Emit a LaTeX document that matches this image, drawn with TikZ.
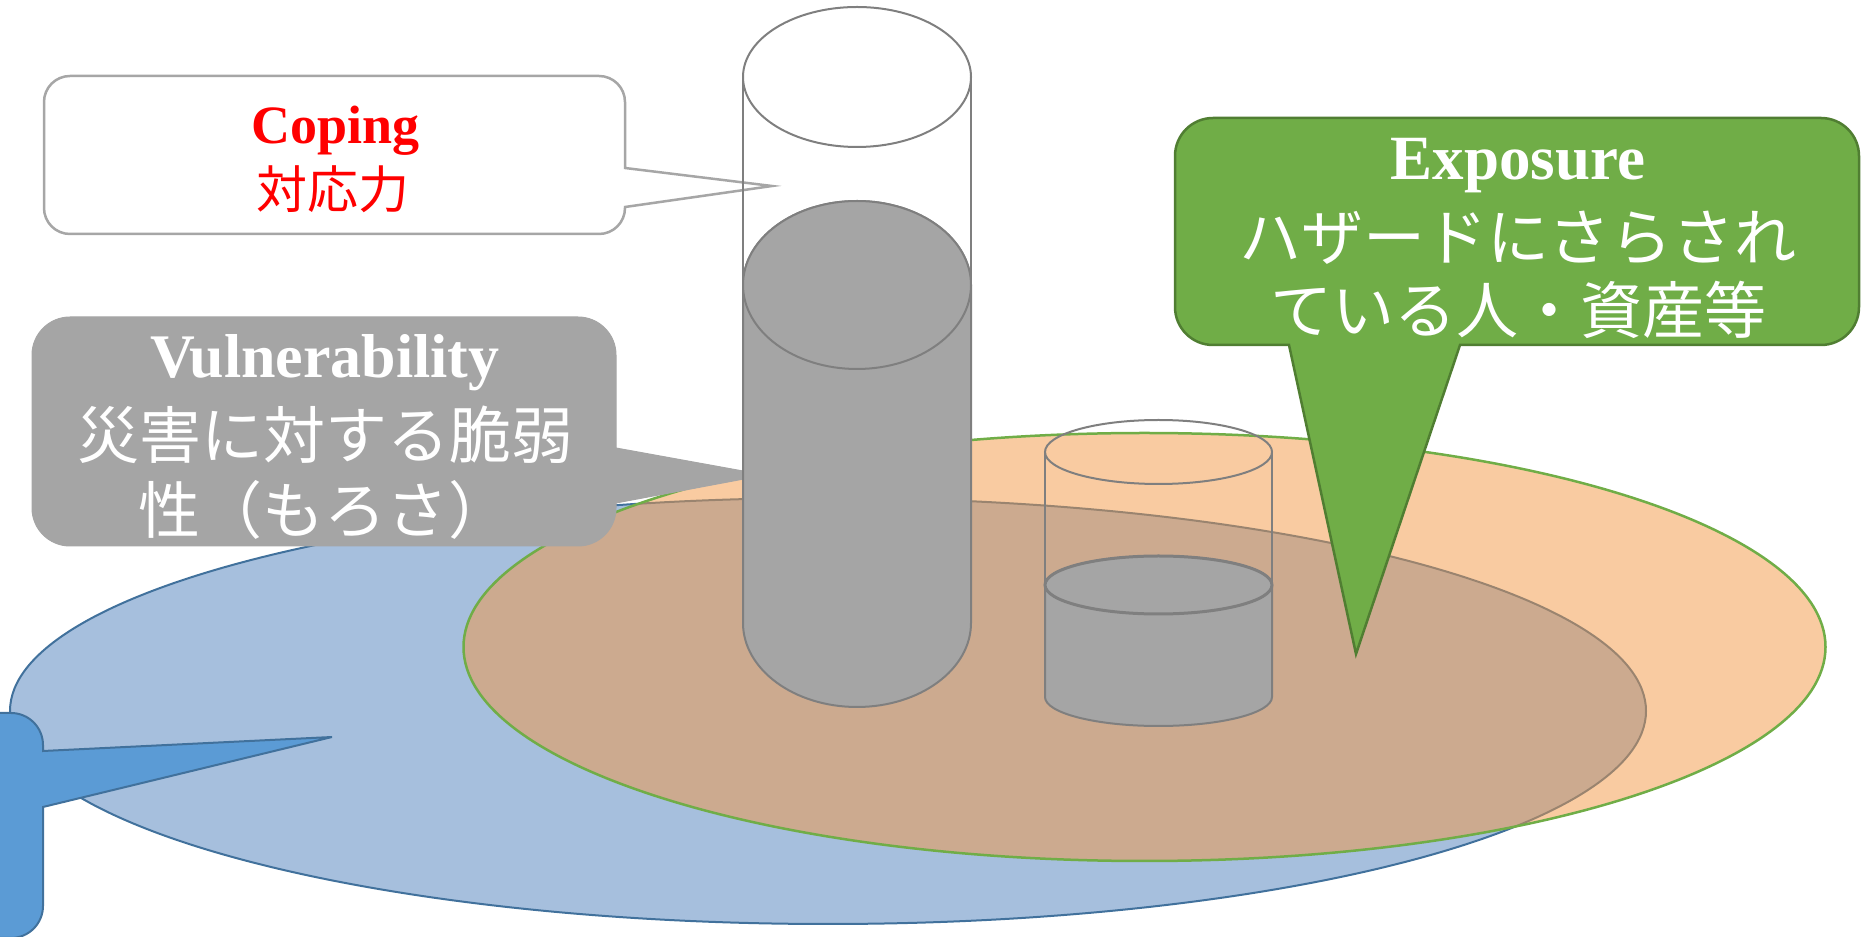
\documentclass[tikz,border=0pt]{standalone}
\usepackage{fontspec}
\setmainfont{Liberation Serif}
\newfontfamily\jpfont{Noto Sans CJK JP}
\usetikzlibrary{calc}

\definecolor{hazardfill}{HTML}{A6BFDD}
\definecolor{hazardline}{HTML}{41719C}
\definecolor{hazardcall}{HTML}{5B9BD5}
\definecolor{expofill}{RGB}{243,151,67}
\definecolor{expogreen}{HTML}{70AD47}
\definecolor{expodark}{HTML}{507E32}
\definecolor{tankgray}{HTML}{A5A5A5}
\definecolor{tankline}{HTML}{7F7F7F}
\definecolor{copingline}{HTML}{A6A6A6}
\definecolor{copingred}{HTML}{FF0000}

\tikzset{
  hazardarea/.style={fill=hazardfill, draw=hazardline, line width=2pt},
  exposurearea/.style={fill=expofill, fill opacity=0.5, draw=expogreen, line width=2.5pt},
  hazardbox/.style={fill=hazardcall, draw=hazardline, line width=2pt},
  copingbox/.style={fill=white, draw=copingline, line width=2.5pt},
  vulnbox/.style={fill=tankgray, draw=tankgray, line width=1pt},
  exposurebox/.style={fill=expogreen, draw=expodark, line width=2.5pt},
  glass/.style={draw=tankline, line width=2pt},
  water/.style={fill=tankgray, draw=tankline, line width=2pt},
  entitle/.style={font=\bfseries\fontsize{62}{62}\selectfont, text=white,
    anchor=base, inner sep=0pt},
  jptext/.style={font=\jpfont\fontsize{62}{62}\selectfont, text=white,
    anchor=base, inner sep=0pt}
}

\begin{document}
\begin{tikzpicture}[x=1pt, y=1pt]

\useasboundingbox (0,0) rectangle (1861,937);
\clip (0,0) rectangle (1861,937);

% Ground areas
\draw[hazardarea] (828,226) ellipse[x radius=818, y radius=213];
\draw[exposurearea] (1144.5,290) ellipse[x radius=681, y radius=214];

% Hazard callout, only its tip is inside
\draw[hazardbox] (-300,224) -- (11,224) arc[start angle=90, end angle=0, radius=32]
  -- (43,186) -- (332,200) -- (43,130) -- (43,31)
  arc[start angle=0, end angle=-90, radius=32] -- (-300,-1) -- cycle;

% Coping callout
\draw[copingbox] (70,861) -- (599,861) arc[start angle=90, end angle=0, radius=26]
  -- (625,769) -- (772,751) -- (625,730) -- (625,729)
  arc[start angle=0, end angle=-90, radius=26] -- (70,703)
  arc[start angle=270, end angle=180, radius=26] -- (44,835)
  arc[start angle=180, end angle=90, radius=26] -- cycle;

% Vulnerability callout
\draw[vulnbox] (70,620) -- (578,620) arc[start angle=90, end angle=0, radius=38]
  -- (616,489) -- (765,462) -- (616,434) -- (616,429)
  arc[start angle=0, end angle=-90, radius=38] -- (70,391)
  arc[start angle=270, end angle=180, radius=38] -- (32,582)
  arc[start angle=180, end angle=90, radius=38] -- cycle;

% Tall tank
\draw[water] (743,652) -- (743,314)
  arc[start angle=180, end angle=360, x radius=114, y radius=84] -- (971,652)
  arc[start angle=0, end angle=180, x radius=114, y radius=84] -- cycle;
\draw[water] (857,652) ellipse[x radius=114, y radius=84];
\draw[glass] (857,860) ellipse[x radius=114, y radius=70];
\draw[glass] (743,860) -- (743,652) (971,860) -- (971,652);

% Short tank
\draw[water] (1045,352) -- (1045,240)
  arc[start angle=180, end angle=360, x radius=113.5, y radius=29] -- (1272,352)
  arc[start angle=0, end angle=180, x radius=113.5, y radius=29] -- cycle;
\draw[water, line width=3pt] (1158.5,352) ellipse[x radius=113.5, y radius=29];
\draw[glass] (1158.5,485) ellipse[x radius=113.5, y radius=32];
\draw[glass] (1045,485) -- (1045,352) (1272,485) -- (1272,352);

% Exposure callout
\draw[exposurebox] (1213,819) -- (1821,819) arc[start angle=90, end angle=0, radius=38]
  -- (1859,630) arc[start angle=0, end angle=-90, radius=38]
  -- (1460,592) -- (1356,283) -- (1289,592) -- (1213,592)
  arc[start angle=270, end angle=180, radius=38] -- (1175,781)
  arc[start angle=180, end angle=90, radius=38] -- cycle;

% Labels
\node[entitle, text=copingred, font=\bfseries\fontsize{54}{54}\selectfont]
  (coping) at (335.5,793.5) {Coping};
\node[jptext, text=copingred, font=\jpfont\fontsize{51}{51}\selectfont]
  (copingjp) at (333,728) {対応力};

\node[entitle] (vuln) at (325,559) {Vulnerability};
\node[jptext] (vulnjpa) at (325,478) {災害に対する脆弱};
\node[jptext] (vulnjpb) at (324,403) {性（もろさ）};

\node[entitle, font=\bfseries\fontsize{63}{63}\selectfont]
  (expo) at (1518,757) {Exposure};
\node[jptext] (expojpa) at (1518,676) {ハザードにさらされ};
\node[jptext] (expojpb) at (1518,603) {ている人・資産等};

\end{tikzpicture}
\end{document}
